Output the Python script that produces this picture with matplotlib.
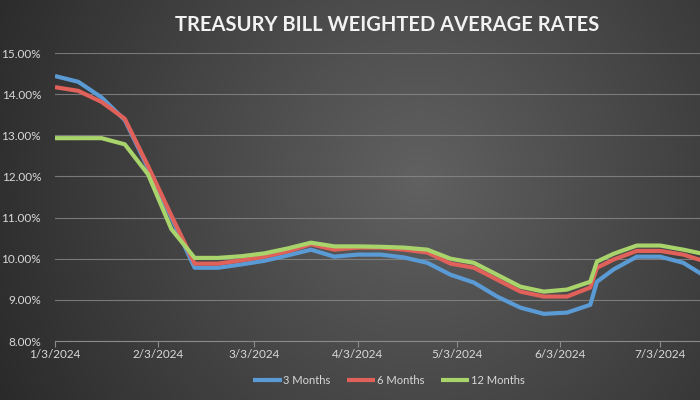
import numpy as np
import pandas as pd
import matplotlib
matplotlib.use("Agg")
import matplotlib.pyplot as plt
import matplotlib.dates as mdates

# ---- data ----
dates = pd.to_datetime([
    "2024-01-03", "2024-01-10", "2024-01-17", "2024-01-24", "2024-01-31",
    "2024-02-07", "2024-02-14", "2024-02-21", "2024-02-28", "2024-03-06",
    "2024-03-13", "2024-03-20", "2024-03-27", "2024-04-03", "2024-04-10",
    "2024-04-17", "2024-04-24", "2024-05-01", "2024-05-08", "2024-05-15",
    "2024-05-22", "2024-05-29", "2024-06-05", "2024-06-12", "2024-06-14",
    "2024-06-19", "2024-06-26", "2024-07-03", "2024-07-10", "2024-07-17",
])
rate_3m = [14.44, 14.30, 13.92, 13.37, 12.20, 11.00, 9.78, 9.78, 9.86, 9.95,
           10.08, 10.22, 10.05, 10.10, 10.10, 10.03, 9.90, 9.61, 9.42, 9.08,
           8.81, 8.66, 8.69, 8.88, 9.44, 9.74, 10.05, 10.05, 9.90, 9.55]
rate_6m = [14.17, 14.08, 13.81, 13.40, 12.25, 11.05, 9.88, 9.88, 9.96, 10.05,
           10.18, 10.35, 10.22, 10.27, 10.27, 10.22, 10.15, 9.88, 9.78, 9.49,
           9.20, 9.08, 9.08, 9.30, 9.78, 9.98, 10.19, 10.19, 10.10, 9.92]
rate_12m = [12.93, 12.93, 12.93, 12.78, 12.05, 10.72, 10.02, 10.02, 10.06, 10.13,
            10.25, 10.39, 10.30, 10.30, 10.29, 10.27, 10.22, 10.00, 9.90, 9.61,
            9.32, 9.20, 9.25, 9.44, 9.93, 10.12, 10.32, 10.32, 10.22, 10.10]
series_names = ["3 Months", "6 Months", "12 Months"]
tick_dates = pd.to_datetime(["2024-01-03", "2024-02-03", "2024-03-03", "2024-04-03",
                             "2024-05-03", "2024-06-03", "2024-07-03"])
y_ticks = [8, 9, 10, 11, 12, 13, 14, 15]

colors = ["#5b9bd5", "#e0605a", "#a9d46b"]
txt_color = "#d9d9d9"

plt.rcParams['font.family'] = ['Lato', 'DejaVu Sans']

fig = plt.figure(figsize=(7, 4), dpi=100)

# background gradient
bg = fig.add_axes([0, 0, 1, 1])
xx, yy = np.meshgrid(np.linspace(0, 1, 400), np.linspace(0, 1, 300))
d = np.sqrt(((xx - 0.6) / 0.72) ** 2 + ((yy - 0.45) / 1.3) ** 2)
val = 0.38 - 0.23 * d
val = np.clip(val, 0.15, 0.40)
bg.imshow(np.dstack([val, val, val]), aspect='auto', extent=[0, 1, 0, 1],
          interpolation='bilinear')
bg.set_axis_off()

ax = fig.add_axes([55 / 700, 1 - 341 / 400, 1 - 55 / 700, (341 - 53) / 400])
ax.set_facecolor("none")
ax.patch.set_alpha(0)

for vals, c, name in zip([rate_3m, rate_6m, rate_12m], colors, series_names):
    ax.plot(dates, vals, color=c, lw=3.0, label=name, solid_joinstyle='round',
            solid_capstyle='butt')

ax.set_ylim(8, 15)
ax.set_yticks(y_ticks)
ax.set_yticklabels([f"{v:.2f}%" for v in y_ticks])
ax.set_xlim(pd.Timestamp("2024-01-03"), pd.Timestamp("2024-07-15"))
ax.set_xticks(tick_dates)
ax.xaxis.set_major_formatter(mdates.DateFormatter("%-m/%-d/%Y"))
ax.grid(axis='y', color="#8a8a8a", lw=0.8, alpha=0.8)
ax.set_axisbelow(True)
for s in ["top", "right", "left"]:
    ax.spines[s].set_visible(False)
ax.spines["bottom"].set_color("#8a8a8a")
ax.tick_params(axis='y', length=0, colors=txt_color, labelsize=8.5, pad=10)
ax.tick_params(axis='x', length=4, colors="#8a8a8a", labelcolor=txt_color,
               labelsize=8.5, pad=2, direction='out')

fig.text(0.553, 0.938, "TREASURY BILL WEIGHTED AVERAGE RATES", color="#f2f2f2",
         fontsize=14.5, fontweight='bold', ha='center', va='center')

leg = fig.legend(loc='center', bbox_to_anchor=(0.555, 0.048), ncol=3, frameon=False,
                 fontsize=8, labelcolor=txt_color, handlelength=2.6,
                 handletextpad=0.1, columnspacing=1.5)

fig.savefig("out.png", dpi=100)
